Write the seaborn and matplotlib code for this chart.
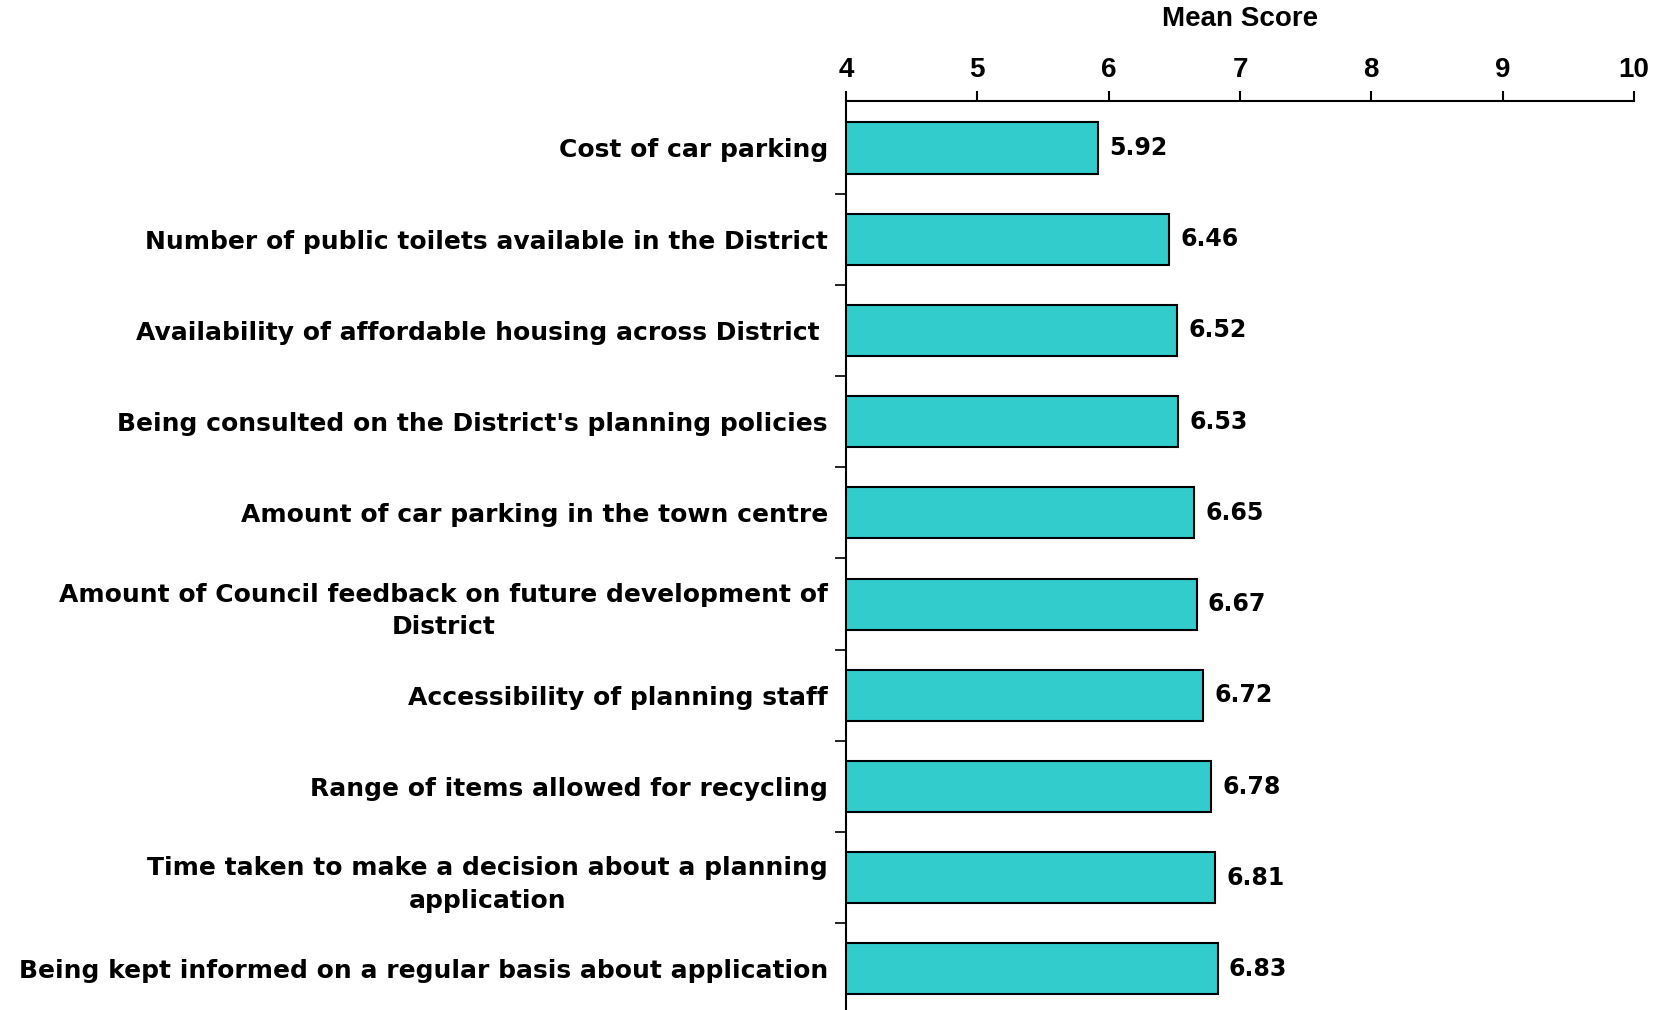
import matplotlib
matplotlib.use("Agg")
import matplotlib.pyplot as plt
import numpy as np
import pandas as pd
import seaborn as sns

categories = [
    "Cost of car parking",
    "Number of public toilets available in the District",
    "Availability of affordable housing across District ",
    "Being consulted on the District's planning policies",
    "Amount of car parking in the town centre",
    "Amount of Council feedback on future development of\nDistrict",
    "Accessibility of planning staff",
    "Range of items allowed for recycling",
    "Time taken to make a decision about a planning\napplication",
    "Being kept informed on a regular basis about application",
]
scores = [5.92, 6.46, 6.52, 6.53, 6.65, 6.67, 6.72, 6.78, 6.81, 6.83]
x_ticks = [4, 5, 6, 7, 8, 9, 10]

df = pd.DataFrame({"item": categories, "score": scores})

sns.set_style("white", {"text.color": "black", "axes.labelcolor": "black",
                        "xtick.color": "black", "ytick.color": "black",
                        "ytick.left": True, "xtick.top": True})
plt.rcParams["font.family"] = ["DejaVu Sans"]

fig = plt.figure(figsize=(16.73, 10.10), dpi=100)
ax = fig.add_axes([0.5057, 0.0, 0.471, 0.90])

sns.barplot(data=df, y="item", x="score", orient="h", color="#33CCCC",
            edgecolor="black", linewidth=1.5, width=0.56, saturation=1, ax=ax)

ax.set_xlim(4, 10)
ax.set_ylim(9.45, -0.515)

ax.bar_label(ax.containers[0], fmt="%.2f", padding=8,
             fontsize=17, fontweight="bold", color="black")

ax.xaxis.tick_top()
ax.xaxis.set_label_position("top")
ax.set_xticks(x_ticks)
ax.set_xticklabels([str(t) for t in x_ticks], family="Liberation Sans",
                   fontsize=20, fontweight="bold")
ax.set_xlabel("Mean Score", family="Liberation Sans", fontsize=20,
              fontweight="bold", labelpad=22)
ax.tick_params(axis="x", direction="out", length=7, width=1.5, pad=6)

ax.set_ylabel("")
ax.set_yticks(range(len(categories)))
ax.set_yticklabels(categories, fontsize=18, fontweight="bold",
                   multialignment="center", linespacing=1.45)
ax.tick_params(axis="y", which="major", left=False, length=0, pad=13)
ax.set_yticks(np.arange(0.5, len(categories) - 1, 1), minor=True)
ax.tick_params(axis="y", which="minor", left=True, direction="out",
               length=8, width=1.2)

for side in ["right", "bottom"]:
    ax.spines[side].set_visible(False)
for side in ["left", "top"]:
    ax.spines[side].set_linewidth(1.5)
    ax.spines[side].set_color("black")

fig.savefig("out.png", dpi=100)
